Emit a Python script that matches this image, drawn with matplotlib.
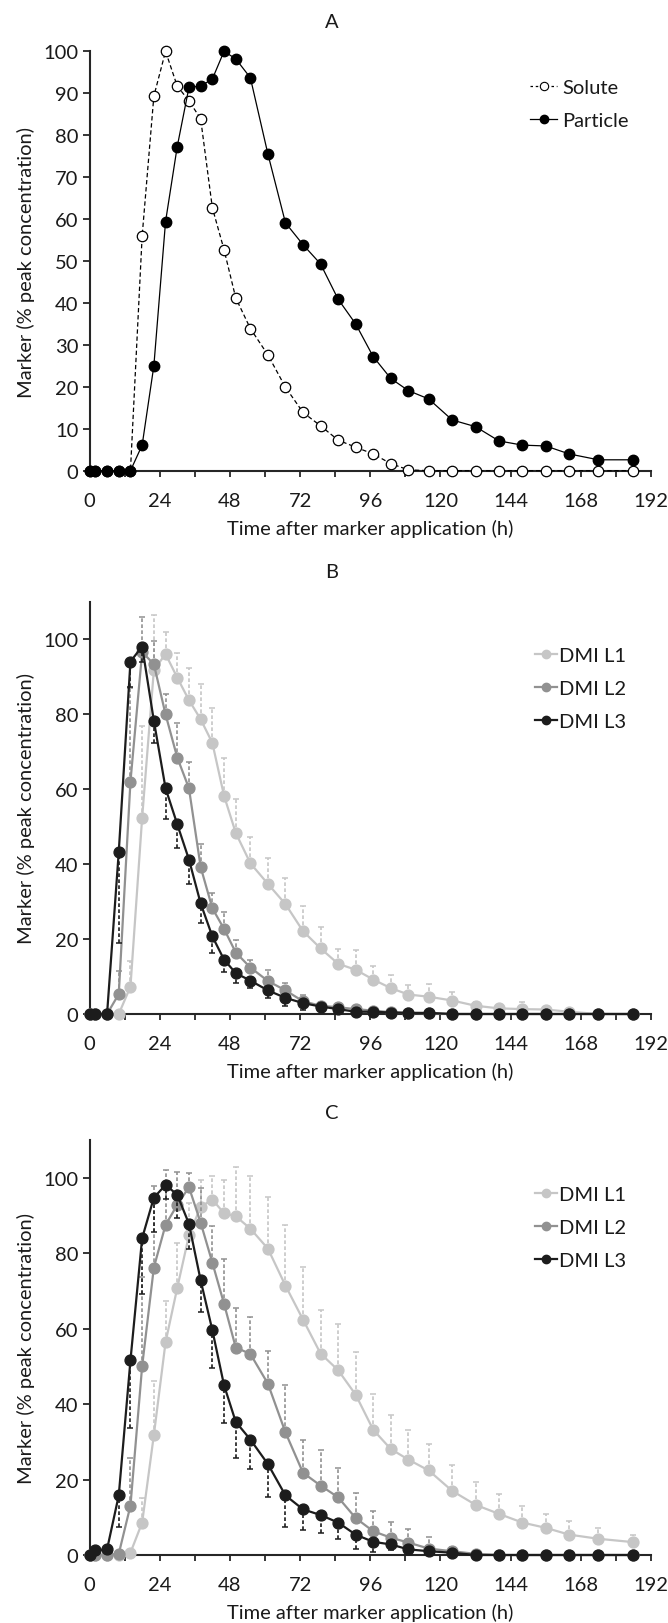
import numpy as np
import matplotlib
matplotlib.use("Agg")
import matplotlib.pyplot as plt
from matplotlib.lines import Line2D
from matplotlib.ticker import MultipleLocator

plt.rcParams["font.family"] = ["Lato", "DejaVu Sans"]
plt.rcParams["font.size"] = 14.5
plt.rcParams["text.color"] = "#1a1a1a"
plt.rcParams["axes.labelcolor"] = "#1a1a1a"
plt.rcParams["xtick.color"] = "#262626"
plt.rcParams["ytick.color"] = "#262626"
plt.rcParams["xtick.labelcolor"] = "#1a1a1a"
plt.rcParams["ytick.labelcolor"] = "#1a1a1a"

# sampling times (h after marker application)
hours = [0, 2, 6, 10, 14, 18, 22, 26, 30, 34, 38, 42, 46, 50, 55, 61, 67, 73, 79, 85,
         91, 97, 103, 109, 116, 124, 132, 140, 148, 156, 164, 174, 186]

# A: solute vs particle marker
solute = [0, 0, 0, 0, 0, 56.0, 89.3, 100, 91.7, 88.2, 83.9, 62.7, 52.7, 41.2, 33.9, 27.6,
          19.9, 13.9, 10.7, 7.3, 5.6, 4.0, 1.7, 0.2, 0, 0, 0, 0, 0, 0, 0, 0, 0]
particle = [0, 0, 0, 0, 0, 6.1, 25.0, 59.4, 77.3, 91.4, 91.7, 93.4, 100, 98.2, 93.7, 75.5,
            59.1, 53.9, 49.3, 40.9, 35.0, 27.2, 22.0, 19.1, 17.1, 12.1, 10.5, 7.1, 6.1, 5.9,
            4.0, 2.6, 2.6]

# B: DMI levels, means and SD
b_l1 = [0, 0, 0, 0, 7.3, 52.4, 91.7, 96.0, 89.7, 83.7, 78.6, 72.3, 58.2, 48.3, 40.2, 34.7,
        29.3, 22.1, 17.5, 13.4, 11.8, 9.2, 6.9, 5.2, 4.6, 3.6, 2.2, 1.5, 1.3, 1.2, 0.6, 0, 0]
b_l1_sd = [0, 0, 0, 0, 6.9, 24.5, 14.7, 6.0, 6.7, 8.5, 9.4, 9.2, 10.0, 9.0, 6.9, 6.8,
           7.0, 6.6, 5.8, 3.9, 5.3, 3.7, 3.5, 2.6, 3.4, 2.4, 1.0, 0.8, 1.8, 0.5, 0.3, 0, 0]
b_l2 = [0, 0, 0, 5.3, 62.0, 96.5, 93.3, 79.9, 68.4, 60.2, 39.2, 28.2, 22.7, 16.4, 12.4, 8.8,
        6.3, 3.4, 2.2, 1.8, 1.3, 0.9, 0.5, 0.3, 0.2, 0, 0, 0, 0, 0, 0, 0, 0]
b_l2_sd = [0, 0, 0, 6.3, 25.0, 9.5, 6.3, 5.4, 9.2, 6.9, 6.1, 4.2, 4.4, 3.4, 2.0, 2.9,
           1.9, 1.8, 1.0, 1.0, 0.5, 0.4, 0, 0, 0, 0, 0, 0, 0, 0, 0, 0, 0]
b_l3 = [0, 0, 0, 43.2, 94.0, 98.0, 78.2, 60.2, 50.6, 41.2, 29.5, 20.7, 14.5, 10.9, 8.9, 6.3,
        4.3, 2.9, 2.0, 1.3, 0.6, 0.6, 0.4, 0.3, 0.3, 0, 0, 0, 0, 0, 0, 0, 0]
b_l3_sd = [0, 0, 0, 24.2, 6.9, 4.2, 5.9, 8.2, 6.2, 6.5, 5.1, 4.3, 3.4, 2.7, 2.0, 1.9,
           2.1, 1.9, 1.0, 0.5, 0, 0, 0, 0, 0, 0, 0, 0, 0, 0, 0, 0, 0]

# C: DMI levels, means and SD
c_l1 = [0, 0, 0, 0, 0.6, 8.6, 31.8, 56.4, 70.8, 84.7, 92.3, 94.2, 90.6, 89.8, 86.5, 81.2,
        71.4, 62.4, 53.4, 49.0, 42.5, 33.2, 28.1, 25.3, 22.4, 17.0, 13.3, 10.9, 8.6, 7.2,
        5.4, 4.3, 3.4]
c_l1_sd = [0, 0, 0, 0, 0, 6.5, 14.4, 10.9, 11.8, 8.5, 7.2, 6.3, 8.9, 13.0, 14.0, 13.7,
           16.1, 13.9, 11.6, 12.3, 11.4, 9.5, 9.0, 7.9, 7.1, 6.9, 6.0, 5.4, 4.5, 3.7,
           3.7, 2.8, 2.0]
c_l2 = [0, 0, 0, 0.3, 13.1, 50.1, 76.2, 87.5, 92.8, 97.5, 88.1, 77.5, 66.6, 55.0, 53.3, 45.4,
        32.5, 21.8, 18.4, 15.3, 9.8, 6.3, 4.6, 3.3, 1.7, 1.0, 0.3, 0, 0, 0, 0, 0, 0]
c_l2_sd = [0, 0, 0, 0, 12.5, 23.5, 21.5, 14.6, 8.8, 3.7, 9.1, 9.8, 11.8, 10.4, 9.8, 8.7,
           12.5, 8.6, 9.4, 7.7, 6.7, 5.4, 4.2, 3.5, 3.0, 1.1, 0.5, 0, 0, 0, 0, 0, 0]
c_l3 = [0, 1.2, 1.5, 15.8, 51.6, 84.0, 94.7, 98.1, 95.5, 87.8, 72.8, 59.6, 45.0, 35.3, 30.6,
        24.1, 15.8, 12.1, 10.6, 8.6, 5.4, 3.5, 2.8, 1.5, 1.0, 0.6, 0, 0, 0, 0, 0, 0, 0]
c_l3_sd = [0, 0, 0, 8.4, 17.9, 14.8, 9.1, 3.7, 6.2, 6.8, 8.5, 10.0, 9.9, 9.5, 7.9, 8.7,
           8.4, 5.5, 4.8, 4.4, 3.7, 2.8, 1.5, 0.8, 0, 0, 0, 0, 0, 0, 0, 0, 0]

dmi_labels = ["DMI L1", "DMI L2", "DMI L3"]
dmi_colors = ["#c6c6c6", "#919191", "#1c1c1c"]
axis_color = "#262626"

fig = plt.figure(figsize=(6.68, 16.24), dpi=100)
left, width = 0.134, 0.8406


def setup(ax, ymax, ystep):
    ax.set_xlim(0, 192)
    ax.set_ylim(0, ymax)
    ax.xaxis.set_major_locator(MultipleLocator(24))
    ax.xaxis.set_minor_locator(MultipleLocator(12))
    ax.yaxis.set_major_locator(MultipleLocator(ystep))
    for s in ["top", "right"]:
        ax.spines[s].set_visible(False)
    for s in ["left", "bottom"]:
        ax.spines[s].set_linewidth(1.5)
        ax.spines[s].set_color(axis_color)
    ax.tick_params(axis="x", which="both", direction="out", length=4.5, width=1.3, pad=10.5)
    ax.tick_params(axis="y", which="major", direction="out", length=5, width=1.3, pad=3)
    ax.set_xlabel("Time after marker application (h)", labelpad=7.5)
    ax.set_ylabel("Marker (% peak concentration)")
    ax.yaxis.set_label_coords(-0.097, 0.5)


# one DMI series: dashed one-sided SD bars, then the line with markers on top
def series(ax, y, sd, color, upward, z):
    t = np.array(hours)
    y = np.array(y)
    sd = np.array(sd)
    m = sd > 0
    zeros = np.zeros(m.sum())
    err = [zeros, sd[m]] if upward else [sd[m], zeros]
    _, caps, bars = ax.errorbar(t[m], y[m], yerr=err, fmt="none", ecolor=color,
                                elinewidth=1.2, capsize=2.3, capthick=1.1, zorder=z - 0.5)
    bars[0].set_linestyle((0, (2.2, 1.4)))
    ax.plot(t, y, "-o", color=color, lw=1.6, ms=7.8, zorder=z, clip_on=False)


def legend(ax, handles, labels, x, y, hl=1.1, pad=0.1):
    ax.legend(handles, labels, loc="upper left", bbox_to_anchor=(x, y),
              bbox_transform=fig.transFigure, frameon=False, handlelength=hl,
              handletextpad=pad, labelspacing=0.78, borderpad=0, borderaxespad=0)


# --- A ---
axA = fig.add_axes([left, 0.70954, width, 0.25825])
setup(axA, 100, 10)
axA.plot(hours, solute, "--o", color="black", lw=0.9, ms=7.5, mfc="white", mec="black",
         mew=0.9, zorder=3, clip_on=False, dashes=(3.5, 2.2))
axA.plot(hours, particle, "-o", color="black", lw=0.9, ms=7.5, zorder=4, clip_on=False)
hA = [Line2D([], [], color="black", lw=0.9, ls=(0, (2.0, 2.2)), marker="o", ms=6,
             mfc="white", mec="black", mew=0.8),
      Line2D([], [], color="black", lw=0.9, marker="o", ms=6)]
legend(axA, hA, ["Solute", "Particle"], 0.7934, 0.9505, hl=1.35, pad=0.25)
fig.text(0.497, 0.98645, "A", ha="center", va="center")

# --- B ---
axB = fig.add_axes([left, 0.37500, width, 0.25400])
setup(axB, 110, 20)
series(axB, b_l1, b_l1_sd, dmi_colors[0], True, 3)
series(axB, b_l2, b_l2_sd, dmi_colors[1], True, 4)
series(axB, b_l3, b_l3_sd, dmi_colors[2], False, 5)
hB = [Line2D([], [], color=c, lw=1.6, marker="o", ms=6) for c in dmi_colors]
legend(axB, hB, dmi_labels, 0.8009, 0.6010)
fig.text(0.497, 0.64778, "B", ha="center", va="center")

# --- C ---
axC = fig.add_axes([left, 0.04187, width, 0.25554])
setup(axC, 110, 20)
series(axC, c_l1, c_l1_sd, dmi_colors[0], True, 3)
series(axC, c_l2, c_l2_sd, dmi_colors[1], True, 4)
series(axC, c_l3, c_l3_sd, dmi_colors[2], False, 5)
hC = [Line2D([], [], color=c, lw=1.6, marker="o", ms=6) for c in dmi_colors]
legend(axC, hC, dmi_labels, 0.8009, 0.2691)
fig.text(0.497, 0.31404, "C", ha="center", va="center")

fig.savefig("out.png", dpi=100)
